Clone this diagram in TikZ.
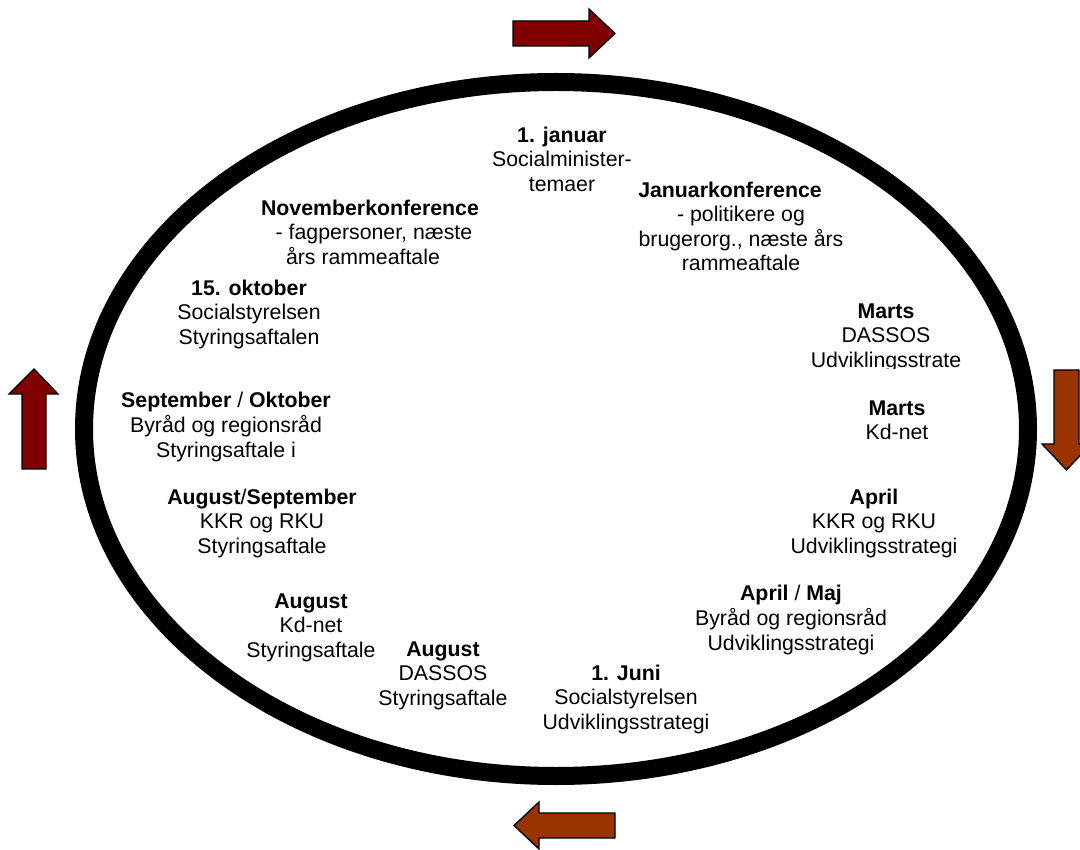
\documentclass[tikz,border=0pt]{standalone}
\usepackage{fontspec}
\setmainfont{Liberation Sans}
\definecolor{arrowred}{HTML}{800000}
\definecolor{arrowrust}{HTML}{993300}
\begin{document}
\begin{tikzpicture}[x=1pt,y=-1pt,
  lbl/.style={font=\fontsize{21.3}{24.4}\selectfont, align=center, inner sep=0pt, anchor=north},
  blockarrow/.style={draw=black, line width=1.3pt, line join=miter},
  ring/.style={draw=black, line width=18pt}]
\useasboundingbox (0,0) rectangle (1080,850);

% cycle ring
\draw[ring] (556,429) ellipse [x radius=472, y radius=347];

% direction arrows
\draw[blockarrow, fill=arrowred] (513,21) -- (589,21) -- (589,9) -- (615,33.5) -- (589,58) -- (589,46) -- (513,46) -- cycle;
\draw[blockarrow, fill=arrowrust] (1054,370) -- (1079,370) -- (1079,444) -- (1091,444) -- (1066.5,470) -- (1042,444) -- (1054,444) -- cycle;
\draw[blockarrow, fill=arrowrust] (615,813) -- (539,813) -- (539,802) -- (514,825.5) -- (539,849) -- (539,838) -- (615,838) -- cycle;
\draw[blockarrow, fill=arrowred] (22,469) -- (22,394) -- (9,394) -- (34,369) -- (58,394) -- (46,394) -- (46,469) -- cycle;

% labels
\node[lbl] (jan1) at (562,125) {\strut\textbf{1. januar}\\Socialminister-\\temaer};
\node[lbl] (jankonf) at (741,180) {\strut\textbf{Januarkonference}\hspace*{22pt}\\- politikere og\\brugerorg., næste års\\rammeaftale};
\node[lbl] (novkonf) at (370,198) {\strut\textbf{Novemberkonference}\\\hspace*{8pt}- fagpersoner, næste\\års rammeaftale\hspace*{14pt}};
\node[lbl] (okt15) at (249,278) {\strut\textbf{15. oktober}\\Socialstyrelsen\\Styringsaftalen};
\node[lbl] (sepokt) at (226,390) {\strut\textbf{September} / \textbf{Oktober}\\Byråd og regionsråd\\Styringsaftale i};
\node[lbl] (augsep) at (262,487) {\strut\textbf{August}/\textbf{September}\\KKR og RKU\\Styringsaftale};
\node[lbl] (augkd) at (311,591) {\strut\textbf{August}\\Kd-net\\Styringsaftale};
\node[lbl] (augdassos) at (443,639) {\strut\textbf{August}\\DASSOS\\Styringsaftale};
\node[lbl] (juni1) at (626,663) {\strut\textbf{1. Juni}\\Socialstyrelsen\\Udviklingsstrategi};
\node[lbl] (aprmaj) at (791,583) {\strut\textbf{April} / \textbf{Maj}\\Byråd og regionsråd\\Udviklingsstrategi};
\node[lbl] (april) at (874,487) {\strut\textbf{April}\\KKR og RKU\\Udviklingsstrategi};
\begin{scope}
  \clip (760,290) rectangle (1000,369);
  \node[lbl] (martsdassos) at (886,301) {\strut\textbf{Marts}\\DASSOS\\Udviklingsstrate};
\end{scope}
\begin{scope}
  \clip (760,380) rectangle (1000,438.3);
  \node[lbl] (martskd) at (897,398) {\strut\textbf{Marts}\\Kd-net};
\end{scope}
\end{tikzpicture}
\end{document}
